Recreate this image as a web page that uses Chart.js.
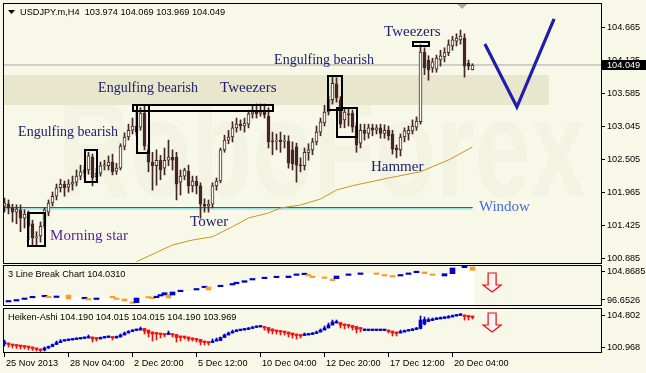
<!DOCTYPE html>
<html><head><meta charset="utf-8">
<script src="https://cdn.jsdelivr.net/npm/chart.js@4.4.1/dist/chart.umd.min.js"></script>
<style>
html,body{margin:0;padding:0;background:#f8f8e8;}
#wrap{position:relative;width:646px;height:373px;overflow:hidden;background:#f8f8e8;}
canvas{position:absolute;left:0;}
#c1{top:0}
#c2{top:264px}
#c3{top:307px}
</style></head><body>
<div id="wrap">
<canvas id="c1" width="646" height="264"></canvas>
<canvas id="c2" width="646" height="43"></canvas>
<canvas id="c3" width="646" height="66"></canvas>
</div>
<script>
// ---------------- DATA ----------------
const symbolTitle = 'USDJPY.m,H4  103.974 104.069 103.969 104.049';
const openP = [101.74,101.77,101.71,101.64,101.68,101.54,101.61,101.45,101.22,101.25,
101.41,101.64,101.79,101.90,102.04,102.10,102.05,102.10,102.13,102.23,
102.28,102.33,102.54,102.22,102.28,102.40,102.40,102.46,102.31,102.36,
102.72,102.87,102.98,103.05,103.03,103.26,102.66,102.46,102.40,102.49,
102.36,102.49,102.54,102.54,102.13,102.23,102.31,102.07,102.15,102.07,
101.77,101.74,101.77,102.07,102.15,102.66,102.82,102.87,103.02,103.08,
103.05,103.08,103.25,103.28,103.26,103.28,103.21,102.80,102.80,102.82,
102.80,102.80,102.66,102.71,102.41,102.40,102.61,102.66,102.79,102.95,
103.10,103.28,103.48,103.74,103.48,103.15,103.25,103.26,103.05,102.77,
102.98,102.93,103.02,102.98,103.02,102.93,102.98,102.92,102.69,102.66,
102.87,102.92,102.97,103.03,103.12,104.26,104.13,104.00,103.98,104.13,
104.18,104.25,104.36,104.44,104.46,104.49,104.08,103.974];
const highP = [101.87,101.84,101.77,101.76,101.76,101.68,101.66,101.51,101.32,101.48,
101.71,101.84,101.97,102.10,102.18,102.15,102.17,102.23,102.33,102.41,
102.40,102.62,102.59,102.36,102.46,102.49,102.56,102.59,102.44,102.76,
102.94,103.08,103.18,103.31,103.35,103.38,102.74,102.62,102.66,102.57,
102.69,102.82,102.66,102.62,102.33,102.36,102.41,102.23,102.23,102.12,
101.86,101.84,102.12,102.20,102.69,102.90,102.98,103.12,103.18,103.15,
103.18,103.31,103.38,103.41,103.41,103.41,103.35,102.95,102.92,102.95,
102.90,102.89,102.79,102.77,102.53,102.69,102.76,102.85,103.05,103.18,
103.39,103.54,103.88,103.84,103.53,103.34,103.34,103.31,103.10,103.08,
103.08,103.08,103.08,103.07,103.08,103.07,103.05,102.98,102.74,102.92,
103.02,103.05,103.15,103.20,104.38,104.33,104.20,104.16,104.21,104.29,
104.33,104.46,104.52,104.56,104.62,104.56,104.13,104.069];
const lowP = [101.64,101.61,101.48,101.45,101.32,101.38,101.19,101.09,101.10,101.15,
101.38,101.58,101.74,101.84,101.97,101.90,101.97,102.00,102.07,102.17,
102.20,102.26,102.07,102.17,102.23,102.33,102.33,102.25,102.26,102.33,
102.66,102.82,102.92,102.89,102.98,102.66,102.30,102.00,102.08,102.17,
102.25,102.40,102.33,101.84,101.92,102.17,101.95,101.97,101.94,101.54,
101.64,101.64,101.71,102.00,102.12,102.62,102.76,102.79,102.95,102.98,
102.95,103.02,103.18,103.18,103.21,103.18,102.69,102.58,102.66,102.62,
102.69,102.36,102.33,102.13,102.30,102.33,102.49,102.58,102.74,102.89,
103.05,103.23,103.41,103.44,103.02,103.02,103.05,102.95,102.62,102.69,
102.82,102.85,102.89,102.92,102.85,102.85,102.82,102.59,102.53,102.56,
102.79,102.82,102.92,102.98,103.08,103.89,103.80,103.93,103.93,104.03,
104.10,104.20,104.29,104.36,104.39,103.85,103.97,103.969];
const closeP = [101.79,101.71,101.64,101.69,101.54,101.61,101.41,101.22,101.23,101.41,
101.68,101.79,101.90,102.04,102.10,102.04,102.10,102.13,102.23,102.30,
102.33,102.56,102.20,102.28,102.40,102.41,102.46,102.30,102.36,102.72,
102.87,102.98,103.05,102.95,103.26,102.72,102.46,102.40,102.49,102.33,
102.49,102.54,102.49,102.10,102.23,102.33,102.07,102.15,102.07,101.77,
101.74,101.77,102.07,102.15,102.66,102.82,102.87,103.02,103.08,103.05,
103.10,103.25,103.28,103.25,103.30,103.23,102.79,102.79,102.82,102.79,
102.82,102.44,102.43,102.41,102.40,102.62,102.66,102.79,102.95,103.12,
103.28,103.48,103.75,103.51,103.08,103.28,103.23,103.03,102.74,102.98,
102.93,103.02,102.98,103.02,102.93,102.98,102.89,102.67,102.66,102.87,
102.97,102.98,103.05,103.13,104.26,104.00,103.97,104.10,104.16,104.20,
104.25,104.38,104.46,104.49,104.52,104.03,104.03,104.049];

// moving average readings (bar index, value)
const maBar = [33,42,47,52,57,61,66,69,74,79,83,87,96,104,111,117];
const maVal = [100.829,101.103,101.184,101.238,101.402,101.545,101.626,101.708,101.757,101.855,102.003,102.073,102.199,102.302,102.494,102.707];

// Heiken-Ashi (values on the sub-window scale)
const haOpen = [101.39,101.45,101.27,101.21,101.15,101.09,101.03,100.97,100.85,100.73,
100.61,100.85,101.03,101.27,101.51,101.69,101.75,101.82,101.88,101.94,
102.00,102.06,102.18,102.06,101.94,102.06,102.12,102.18,102.06,102.18,
102.42,102.66,102.84,102.96,103.02,103.21,103.02,102.78,102.66,102.60,
102.54,102.48,102.54,102.48,102.30,102.18,102.18,102.06,101.94,101.88,
101.69,101.57,101.51,101.69,101.75,102.12,102.42,102.66,102.84,102.96,
103.02,103.09,103.21,103.33,103.39,103.39,103.33,103.15,103.02,102.90,
102.84,102.78,102.66,102.54,102.42,102.36,102.42,102.48,102.60,102.78,
103.02,103.27,103.63,103.87,103.93,103.75,103.63,103.57,103.45,103.27,
102.96,102.96,102.96,102.96,102.96,102.96,103.02,102.90,102.78,102.66,
102.78,102.90,102.96,103.09,103.21,103.75,104.05,104.17,104.29,104.36,
104.42,104.48,104.60,104.72,104.78,104.84,104.72,104.66];
const haClose = [101.51,101.27,101.15,101.09,101.03,100.97,100.91,100.79,100.67,100.55,
100.85,101.03,101.27,101.51,101.69,101.75,101.82,101.88,101.94,102.00,
102.06,102.18,101.94,101.94,102.06,102.12,102.18,102.06,102.18,102.42,
102.66,102.84,102.96,103.02,103.21,102.90,102.66,102.54,102.54,102.48,
102.42,102.54,102.42,102.12,102.12,102.12,101.94,101.88,101.82,101.57,
101.51,101.45,101.69,101.82,102.12,102.42,102.66,102.84,102.96,103.02,
103.09,103.21,103.33,103.39,103.45,103.27,102.96,102.90,102.84,102.78,
102.72,102.54,102.42,102.36,102.30,102.42,102.48,102.60,102.78,103.02,
103.27,103.63,103.99,103.93,103.63,103.57,103.51,103.33,103.09,103.15,
103.02,103.02,103.02,103.02,103.02,103.02,102.84,102.66,102.60,102.78,
102.90,102.96,103.09,103.21,104.23,104.29,104.29,104.36,104.42,104.48,
104.54,104.66,104.78,104.84,104.90,104.66,104.60,104.54];
const haHigh = [101.82,101.45,101.27,101.21,101.15,101.09,101.03,100.97,100.85,100.73,
100.97,101.09,101.33,101.69,101.88,101.82,101.94,102.00,102.06,102.12,
102.18,102.42,102.18,102.06,102.18,102.24,102.30,102.18,102.30,102.54,
102.78,102.96,103.09,103.15,103.39,103.21,103.02,102.78,102.66,102.60,
102.54,102.90,102.54,102.48,102.30,102.18,102.18,102.06,101.94,101.88,
101.69,101.57,101.94,102.06,102.18,102.54,102.78,103.02,103.09,103.09,
103.21,103.33,103.45,103.51,103.57,103.39,103.33,103.15,103.02,102.90,
102.84,102.78,102.66,102.54,102.42,102.66,102.60,102.72,102.90,103.15,
103.51,103.87,104.23,104.23,103.93,103.75,103.63,103.57,103.45,103.27,
103.15,103.09,103.09,103.09,103.09,103.09,103.02,102.90,102.78,103.02,
103.02,103.09,103.21,103.33,104.72,104.60,104.48,104.48,104.54,104.60,
104.66,104.78,104.84,104.90,105.02,104.84,104.72,104.66];
const haLow = [101.09,100.97,100.85,100.79,100.73,100.73,100.61,100.55,100.49,100.37,
100.49,100.79,101.03,101.27,101.51,101.69,101.75,101.82,101.88,101.94,
102.00,102.06,101.57,101.69,101.94,102.06,102.12,101.82,102.06,102.18,
102.42,102.66,102.84,102.96,103.02,102.54,102.18,101.69,101.82,102.06,
102.18,102.48,102.18,101.57,101.69,101.94,101.69,101.69,101.57,101.21,
101.21,101.21,101.51,101.69,101.75,102.12,102.42,102.66,102.84,102.96,
103.02,103.09,103.21,103.33,103.39,103.02,102.66,102.54,102.54,102.42,
102.42,102.18,102.06,101.94,102.06,102.36,102.42,102.48,102.60,102.78,
103.02,103.27,103.63,103.87,103.27,103.15,103.27,103.02,102.66,102.78,
102.96,102.96,102.96,102.96,102.96,102.96,102.66,102.30,102.30,102.66,
102.78,102.90,102.96,103.09,103.15,103.63,104.05,104.17,104.29,104.36,
104.42,104.48,104.60,104.72,104.78,104.23,104.23,104.36];

// 3 Line Break bricks (bar index, top, bottom, direction up=1)
const lbBar = [1,3,5,7,10,11,13,16,20,21,23,27,28,30,32,33,36,37,38,39,40,41,42,44,48,50,51,54,57,58,60,62,65,68,71,73,75,76,77,80,82,83,86,89,93,95,97,99,101,103,105,107,110,112,115,117];
const lbTop = [96.51,96.80,97.23,97.73,98.02,97.73,97.81,98.10,97.44,97.09,97.23,97.73,97.23,96.94,96.07,97.23,97.64,97.44,97.73,98.22,98.77,98.10,98.98,99.47,99.96,100.63,100.43,100.92,101.41,101.79,102.26,102.87,103.24,103.53,103.62,104.20,104.40,104.03,103.53,103.33,102.75,103.62,104.20,104.49,104.49,104.03,103.74,104.03,104.49,104.98,104.78,104.20,104.29,105.94,106.44,106.23];
const lbBottom = [96.07,96.36,96.80,97.29,97.58,97.29,97.38,96.94,97.00,96.65,96.80,97.29,96.80,96.36,95.67,95.87,97.23,97.03,97.32,97.81,98.10,97.23,98.10,99.06,99.56,100.22,99.56,100.51,101.01,101.38,101.79,102.46,102.84,103.13,103.13,103.79,104.00,103.62,103.13,102.92,102.26,102.84,103.79,104.08,104.08,103.62,103.33,103.62,104.08,104.58,104.29,103.79,103.62,104.29,106.03,105.27];
const lbUp = [1,1,1,1,1,0,1,0,1,0,1,0,0,0,0,1,0,0,1,1,1,0,1,1,1,1,0,1,1,1,1,1,1,1,1,1,1,0,0,0,0,1,1,1,0,0,0,1,1,1,0,0,1,1,1,0];
const lbValue = '104.0310';
const haValues = '104.190 104.015 104.015 104.190 103.969';

// axes
const tickBar = [0,16,32,48,64,80,96,112];
const tickLabel = ['25 Nov 2013','28 Nov 04:00','2 Dec 20:00','5 Dec 12:00','10 Dec 04:00','12 Dec 20:00','17 Dec 12:00','20 Dec 04:00'];
const priceTicks = [104.665,104.125,103.585,103.045,102.505,101.965,101.425,100.885];
const lbTicks = [104.8685,96.6526];
const haTicks = [104.802,100.968];

// annotations
const bidPrice = 104.049;
const windowTop = 101.716, windowBottom = 101.68, windowEndBar = 117.05;
const zoneTop = 103.885, zoneBottom = 103.394, zoneEndBar = 136.1;
const boxFrom = [5.9,20.1,33.1,32.1,80.9,83.1,102.1];
const boxTo   = [10.1,23.1,36.1,67.1,84.4,88.1,106.1];
const boxHigh = [101.63,102.658,103.394,103.394,103.869,103.345,104.425];
const boxLow  = [101.09,102.134,102.608,103.296,103.312,102.870,104.360];
const noteText  = ['Engulfing bearish','Tweezers','Engulfing bearish','Engulfing bearish','Tweezers','Hammer','Tower','Morning star','Window'];
const noteBar   = [23.4,53.9,3.4,67.4,94.9,91.6,46.4,11.4,118.6];
const notePrice = [103.672,103.672,102.952,104.130,104.589,102.379,101.479,101.250,101.724];
const noteKind  = ['e','p','e','e','p','p','p','m','w'];
const vBar = [120.1,128.1,137.4];
const vPrice = [104.392,103.361,104.802];

// ---------------- STYLE / RENDER ----------------
const FONT = '"Liberation Sans", Arial, sans-serif';
Chart.defaults.font.family = FONT;
Chart.defaults.font.size = 9.2;
Chart.defaults.color = '#000';
Chart.defaults.animation = false;
Chart.defaults.plugins.legend.display = false;
Chart.defaults.plugins.tooltip.enabled = false;

const X_MIN = -0.125, X_MAX = 149.125;
const CANDLE = '#452525', BULLFILL = '#fbfbf2';
const BLUE = '#0000c8', ORANGE = '#f4a030', RED = '#ee1010';

function rightAxis(min, max, vals, dec) {
  return {
    type: 'linear', position: 'right', min, max, bounds: 'data', offset: false,
    afterFit(a) { a.width = 45; a.paddingTop = 0; a.paddingBottom = 0; },
    afterBuildTicks(a) { a.ticks = vals.map(v => ({ value: v })); },
    ticks: { autoSkip: false, padding: 2, color: '#000', font: { size: 9.2 }, callback: v => Number(v).toFixed(dec) },
    grid: { drawOnChartArea: false, drawTicks: true, tickLength: 4, color: '#000', lineWidth: 1, offset: false },
    border: { display: false }
  };
}
const hiddenX = () => ({ type: 'linear', min: X_MIN, max: X_MAX, bounds: 'data', offset: false, grid: { offset: false }, display: false });

function frame(chart) {
  const a = chart.chartArea, ctx = chart.ctx;
  ctx.save();
  ctx.strokeStyle = '#000'; ctx.lineWidth = 1;
  ctx.strokeRect(a.left - 0.5, a.top - 0.5, a.right - a.left + 1, a.bottom - a.top + 1);
  ctx.restore();
}
function downArrow(ctx, cx, yT, yB) {
  ctx.save();
  ctx.beginPath();
  const h = 7;
  ctx.moveTo(cx - 4, yT); ctx.lineTo(cx + 4, yT); ctx.lineTo(cx + 4, yB - h); ctx.lineTo(cx + 9, yB - h);
  ctx.lineTo(cx, yB); ctx.lineTo(cx - 9, yB - h); ctx.lineTo(cx - 4, yB - h); ctx.closePath();
  ctx.fillStyle = '#fff2f2'; ctx.fill();
  ctx.strokeStyle = '#e01010'; ctx.lineWidth = 1.2; ctx.stroke();
  ctx.restore();
}
const pts = (xs, ys) => xs.map((x, k) => ({ x, y: ys[k] }));
const line = (data, color, width, extra) => Object.assign({ type: 'line', data, borderColor: color, borderWidth: width, pointRadius: 0, tension: 0, fill: false }, extra || {});

// ---- main chart ----
const idx = openP.map((_, i) => i);
const bodies = idx.map(i => ({ x: i, y: [openP[i], closeP[i]] }));
const wicks = idx.map(i => ({ x: i, y: [lowP[i], highP[i]] }));

new Chart(document.getElementById('c1'), {
  type: 'bar',
  data: { datasets: [
    line(pts([X_MIN, zoneEndBar], [zoneTop, zoneTop]), 'rgba(0,0,0,0)', 0, { fill: { value: zoneBottom }, backgroundColor: '#e8e6cd', order: 20 }),
    line(pts([X_MIN, windowEndBar], [windowTop, windowTop]), '#2e6868', 1, { fill: { value: windowBottom }, backgroundColor: '#a4e2e2', order: 18 }),
    line(pts([X_MIN, X_MAX], [bidPrice, bidPrice]), '#a8a8a8', 1, { order: 17 }),
    line(pts(maBar, maVal), '#c8961e', 1, { order: 15 }),
    { type: 'bar', data: wicks, grouped: false, barThickness: 1, backgroundColor: CANDLE, borderWidth: 0, order: 6 },
    { type: 'bar', data: bodies, grouped: false, barThickness: 3, minBarLength: 1, borderWidth: 1, borderSkipped: false, borderColor: CANDLE,
      backgroundColor: idx.map(i => closeP[i] >= openP[i] ? BULLFILL : CANDLE), order: 5 },
    line(pts(vBar, vPrice), '#1e1eaa', 3.2, { order: 1, borderJoinStyle: 'miter' })
  ] },
  options: {
    responsive: false,
    layout: { padding: { left: 4, top: 4, right: 0, bottom: 1 } },
    scales: { x: hiddenX(), y: rightAxis(100.808, 105.047, priceTicks, 3) }
  },
  plugins: [{
    id: 'mainDeco',
    beforeDatasetsDraw(chart) {
      const ctx = chart.ctx, a = chart.chartArea;
      ctx.save();
      ctx.beginPath(); ctx.rect(a.left, a.top, a.right - a.left, a.bottom - a.top); ctx.clip();
      ctx.fillStyle = 'rgba(120,120,90,0.04)';
      ctx.font = 'bold 140px "Liberation Sans"';
      ctx.textBaseline = 'alphabetic';
      ctx.fillText('RoboForex', 58, 196, 528);
      ctx.restore();
    },
    afterDatasetsDraw(chart) {
      const ctx = chart.ctx, xs = chart.scales.x, ys = chart.scales.y;
      ctx.save();
      ctx.strokeStyle = '#000'; ctx.lineWidth = 2;
      for (let k = 0; k < boxFrom.length; k++) {
        const x1 = Math.round(xs.getPixelForValue(boxFrom[k])), x2 = Math.round(xs.getPixelForValue(boxTo[k]));
        const y1 = Math.round(ys.getPixelForValue(boxHigh[k])), y2 = Math.round(ys.getPixelForValue(boxLow[k]));
        ctx.strokeRect(x1, y1, x2 - x1, y2 - y1);
      }
      ctx.textBaseline = 'middle'; ctx.textAlign = 'left';
      const kinds = { e: ['#1e2070', 14], p: ['#1e2070', 15], m: ['#5a1e96', 15], w: ['#4a6ad8', 15] };
      for (let k = 0; k < noteText.length; k++) {
        const st = kinds[noteKind[k]];
        ctx.fillStyle = st[0];
        ctx.font = st[1] + 'px "Liberation Serif", "Times New Roman", serif';
        ctx.fillText(noteText[k], xs.getPixelForValue(noteBar[k]), ys.getPixelForValue(notePrice[k]));
      }
      ctx.restore();
    },
    afterDraw(chart) {
      const ctx = chart.ctx, xs = chart.scales.x, ys = chart.scales.y;
      frame(chart);
      ctx.save();
      ctx.fillStyle = '#000';
      ctx.beginPath(); ctx.moveTo(8, 10); ctx.lineTo(15, 10); ctx.lineTo(11.5, 14); ctx.closePath(); ctx.fill();
      ctx.font = '9.2px ' + FONT; ctx.textBaseline = 'middle';
      ctx.fillText(symbolTitle, 20, 12.5);
      const sx = xs.getPixelForValue(114.4);
      ctx.fillStyle = '#a8a8a8';
      ctx.beginPath(); ctx.moveTo(sx - 5, 4); ctx.lineTo(sx + 5, 4); ctx.lineTo(sx, 9); ctx.closePath(); ctx.fill();
      const by = ys.getPixelForValue(bidPrice);
      ctx.fillStyle = '#000';
      ctx.fillRect(601, Math.round(by) - 5, 45, 10);
      ctx.fillStyle = '#fff';
      ctx.fillText(bidPrice.toFixed(3), 607, by);
      ctx.restore();
    }
  }]
});

// ---- 3 line break ----
const lbData = lbBar.map((b, k) => ({ x: b, y: [lbBottom[k], lbTop[k]] }));
const lbFill = lbBar.map((b, k) => ({ x: b - 0.5, y: (lbTop[k] + lbBottom[k]) / 2 }));
lbFill.push({ x: 117.5, y: lbFill[lbFill.length - 1].y });
new Chart(document.getElementById('c2'), {
  type: 'bar',
  data: { datasets: [
    line(lbFill, 'rgba(0,0,0,0)', 0, { stepped: true, fill: 'start', backgroundColor: '#ffffff', order: 10 }),
    { type: 'bar', data: lbData, grouped: false, barThickness: 5, minBarLength: 1.5, borderWidth: 0,
      backgroundColor: lbUp.map(u => u ? BLUE : ORANGE), order: 1 }
  ] },
  options: {
    responsive: false,
    layout: { padding: { left: 4, top: 2, right: 0, bottom: 2 } },
    scales: { x: hiddenX(), y: rightAxis(95.201, 106.523, lbTicks, 4) }
  },
  plugins: [{
    id: 'lbDeco',
    afterDraw(chart) {
      const ctx = chart.ctx, xs = chart.scales.x, ys = chart.scales.y;
      frame(chart);
      ctx.save();
      ctx.fillStyle = '#000'; ctx.font = '9.2px ' + FONT; ctx.textBaseline = 'middle';
      ctx.fillText('3 Line Break Chart ' + lbValue, 8, 10);
      downArrow(ctx, xs.getPixelForValue(121.9), ys.getPixelForValue(104.49), ys.getPixelForValue(98.97));
      ctx.restore();
    }
  }]
});

// ---- Heiken-Ashi ----
const haBodies = idx.map(i => ({ x: i, y: [haOpen[i], haClose[i]] }));
const haWicks = idx.map(i => ({ x: i, y: [haLow[i], haHigh[i]] }));
const haColor = idx.map(i => haClose[i] >= haOpen[i] ? BLUE : RED);
new Chart(document.getElementById('c3'), {
  type: 'bar',
  data: { datasets: [
    { type: 'bar', data: haWicks, grouped: false, barThickness: 1, backgroundColor: haColor, borderWidth: 0, order: 5 },
    { type: 'bar', data: haBodies, grouped: false, barThickness: 3, minBarLength: 1.5, backgroundColor: haColor, borderWidth: 0, order: 1 }
  ] },
  options: {
    responsive: false,
    layout: { padding: { left: 4, top: 2, right: 0, bottom: 0 } },
    scales: {
      x: {
        type: 'linear', min: X_MIN, max: X_MAX, position: 'bottom', bounds: 'data', offset: false,
        afterFit(a) { a.height = 21; a.paddingLeft = 0; a.paddingRight = 0; },
        afterBuildTicks(a) { a.ticks = tickBar.map(v => ({ value: v })); },
        ticks: { autoSkip: false, maxRotation: 0, minRotation: 0, align: 'start', labelOffset: 1.5, padding: 1, color: '#000', font: { size: 9.2 },
          callback: (v, k) => tickLabel[k] },
        grid: { drawOnChartArea: false, tickLength: 5, color: '#000', offset: false },
        border: { display: false }
      },
      y: rightAxis(100.364, 105.564, haTicks, 3)
    }
  },
  plugins: [{
    id: 'haDeco',
    afterDraw(chart) {
      const ctx = chart.ctx, xs = chart.scales.x, ys = chart.scales.y;
      frame(chart);
      ctx.save();
      ctx.fillStyle = '#000'; ctx.font = '9.2px ' + FONT; ctx.textBaseline = 'middle';
      ctx.fillText('Heiken-Ashi ' + haValues, 8, 10);
      downArrow(ctx, xs.getPixelForValue(121.9), ys.getPixelForValue(105.08), ys.getPixelForValue(102.78));
      ctx.restore();
    }
  }]
});
</script>
</body></html>
